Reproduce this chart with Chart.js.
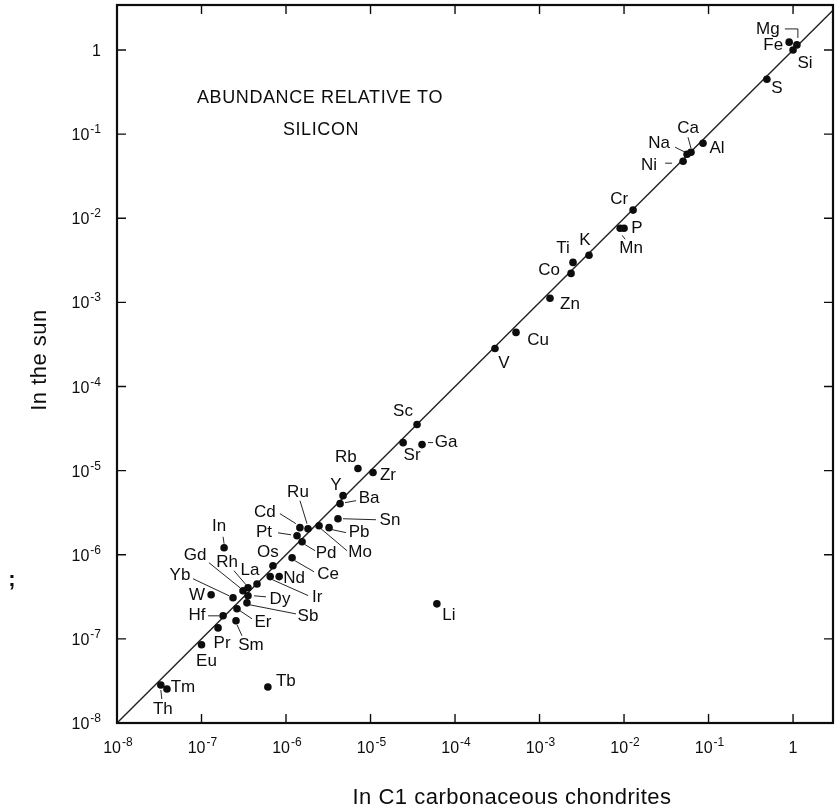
<!DOCTYPE html>
<html>
<head>
<meta charset="utf-8">
<script src="https://cdn.jsdelivr.net/npm/chart.js@4/dist/chart.umd.min.js"></script>
<style>
  html, body { margin: 0; background: #fff; }
  #grafico { display: block; }
</style>
</head>
<body>
<canvas id="grafico" width="838" height="810"></canvas>
<script>
// abundances relative to silicon
const elementos = ["Mg","Fe","Si","S","Al","Ca","Na","Ni","Cr","P","Mn","K","Ti","Co","Zn","Cu","V",
  "Sc","Sr","Ga","Zr","Rb","Y","Ba","Sn","Pb","Mo","Ru","Cd","Pt","Pd","Ce","Os","Nd","Ir","In",
  "Gd","Rh","La","Yb","W","Dy","Sb","Hf","Er","Sm","Pr","Eu","Tm","Th","Tb","Li"];
const condritas = [1.11,0.90,1,0.49,0.086,0.062,0.0557,0.050,0.0128,0.0100,0.0090,0.00385,0.00249,0.00236,0.00133,5.27e-4,2.97e-4,
  3.55e-5,2.43e-5,4.07e-5,1.07e-5,7.1e-6,4.73e-6,4.36e-6,4.12e-6,3.23e-6,2.46e-6,1.82e-6,1.46e-6,1.35e-6,1.55e-6,1.18e-6,7.0e-7,8.3e-7,6.5e-7,1.85e-7,
  3.1e-7,3.55e-7,4.54e-7,2.36e-7,1.3e-7,3.55e-7,3.45e-7,1.8e-7,2.63e-7,2.56e-7,1.57e-7,1.0e-7,3.9e-8,3.3e-8,6.1e-7,6.1e-5];
const sol = [1.15,1.24,1,0.45,0.078,0.061,0.0578,0.0477,0.0125,0.0076,0.0076,0.00363,0.00299,0.00221,0.00112,4.4e-4,2.83e-4,
  3.53e-5,2.15e-5,2.04e-5,9.5e-6,1.06e-5,5.04e-6,4.05e-6,2.68e-6,2.10e-6,2.21e-6,2.04e-6,2.10e-6,1.68e-6,1.43e-6,9.2e-7,7.4e-7,5.5e-7,5.5e-7,1.21e-6,
  3.73e-7,4.05e-7,4.5e-7,3.08e-7,3.34e-7,3.25e-7,2.68e-7,1.88e-7,2.28e-7,1.64e-7,1.35e-7,8.5e-8,2.54e-8,2.83e-8,2.68e-8,2.61e-7];

// equal-abundance line
const lineaX = [1e-8, 2.97];
const lineaY = [1e-8, 2.97];

// decade ticks (exponents)
const exponentes = [-8,-7,-6,-5,-4,-3,-2,-1,0];

// label placement: offset of label centre from the dot, optional leader line (offsets)
const etiquetas = {
  Mg:[-29,-16,[[-12,-16],[1,-16],[1,-7]]], Fe:[-16,3], Si:[12,13], S:[10,9], Al:[14,5],
  Ca:[-3,-24,[[-3,-15],[0,-4]]], Na:[-28,-11,[[-12,-7],[-2,-2]]], Ni:[-34,4,[[-18,2],[-11,2]]],
  Cr:[-14,-11], P:[13,0], Mn:[11,20,[[2,7],[5,11]]], K:[-4,-15], Ti:[-10,-14], Co:[-22,-3],
  Zn:[20,6], Cu:[22,8], V:[9,15], Sc:[-14,-13], Sr:[9,13], Ga:[24,-2,[[6,-2],[11,-2]]],
  Zr:[15,3], Rb:[-12,-11], Y:[-7,-10], Ba:[29,-5,[[5,-1],[16,-3]]], Sn:[52,2,[[5,0],[38,1]]],
  Pb:[30,5,[[3,2],[17,5]]], Mo:[41,27,[[2,3],[28,25]]], Ru:[-10,-36,[[-8,-28],[-1,-5]]],
  Cd:[-35,-15,[[-20,-14],[-4,-4]]], Pt:[-33,-3,[[-19,-3],[-6,-1]]], Pd:[24,12,[[3,3],[13,9]]],
  Ce:[36,17,[[3,3],[22,14]]], Os:[-5,-13], Nd:[15,2], Ir:[47,21,[[2,3],[38,19]]],
  In:[-5,-21,[[-1,-11],[0,-4]]], Gd:[-48,-35,[[-34,-28],[-3,-3]]], Rh:[-21,-25,[[-14,-17],[-2,-3]]],
  La:[-7,-14], Yb:[-53,-22,[[-40,-19],[-4,-2]]], W:[-14,0], Dy:[32,3,[[6,0],[18,1]]],
  Sb:[61,13,[[3,2],[49,11]]], Hf:[-26,-1,[[-15,0],[-4,0]]], Er:[26,14,[[3,2],[15,10]]],
  Sm:[15,25,[[1,4],[6,15]]], Pr:[4,15], Eu:[5,16], Tm:[16,-2], Th:[2,24,[[0,5],[1,14]]],
  Tb:[18,-6], Li:[12,11]
};

const tinta = "#0d0d0d";
const fuente = "'Liberation Sans', Arial, Helvetica, sans-serif";

function potencia(ctx, exp, x, base, alinear) {
  // draws 10^exp; x is right edge ('right') or tick position ('center')
  ctx.font = "16px " + fuente;
  if (exp === 0) {
    ctx.textAlign = alinear === "right" ? "right" : "center";
    ctx.fillText("1", x, base);
    return;
  }
  const w10 = ctx.measureText("10").width;
  ctx.font = "12px " + fuente;
  const txt = "-" + Math.abs(exp);
  const wExp = ctx.measureText(txt).width;
  const inicio = alinear === "right" ? x - w10 - wExp - 1 : x - w10 + 4;
  ctx.textAlign = "left";
  ctx.font = "16px " + fuente;
  ctx.fillText("10", inicio, base);
  ctx.font = "12px " + fuente;
  ctx.fillText(txt, inicio + w10 + 1, base - 7);
}

const decorado = {
  id: "decorado",
  afterDraw(chart) {
    const { ctx, chartArea: a, scales: { x, y } } = chart;
    ctx.save();
    ctx.fillStyle = tinta;
    ctx.strokeStyle = tinta;

    // frame
    ctx.lineWidth = 2.2;
    ctx.strokeRect(a.left, a.top, a.right - a.left, a.bottom - a.top);

    // inward ticks on all sides + tick labels
    ctx.lineWidth = 1.4;
    exponentes.forEach(e => {
      const v = Math.pow(10, e);
      const px = x.getPixelForValue(v);
      const py = y.getPixelForValue(v);
      ctx.beginPath();
      ctx.moveTo(px, a.bottom); ctx.lineTo(px, a.bottom - 9);
      ctx.moveTo(px, a.top); ctx.lineTo(px, a.top + 9);
      ctx.moveTo(a.left, py); ctx.lineTo(a.left + 9, py);
      ctx.moveTo(a.right, py); ctx.lineTo(a.right - 9, py);
      ctx.stroke();
      ctx.textBaseline = "alphabetic";
      potencia(ctx, e, 101, py + 6, "right");
      potencia(ctx, e, px, a.bottom + 30, "center");
    });

    // element labels and leader lines
    ctx.lineWidth = 0.9;
    ctx.font = "17px " + fuente;
    ctx.textAlign = "center";
    ctx.textBaseline = "middle";
    elementos.forEach((el, i) => {
      const px = x.getPixelForValue(condritas[i]);
      const py = y.getPixelForValue(sol[i]);
      const et = etiquetas[el];
      if (!et) return;
      if (et[2]) {
        ctx.beginPath();
        et[2].forEach((p, k) => k ? ctx.lineTo(px + p[0], py + p[1]) : ctx.moveTo(px + p[0], py + p[1]));
        ctx.stroke();
      }
      ctx.fillText(el, px + et[0], py + et[1]);
    });

    // inner caption
    ctx.font = "18px " + fuente;
    ctx.letterSpacing = "0.6px";
    ctx.fillText("ABUNDANCE RELATIVE TO", 320, 98);
    ctx.fillText("SILICON", 321, 130);

    // axis titles
    ctx.font = "22px " + fuente;
    ctx.letterSpacing = "0.5px";
    ctx.fillText("In C1 carbonaceous chondrites", 512, 798);
    ctx.save();
    ctx.translate(40, 360);
    ctx.rotate(-Math.PI / 2);
    ctx.fillText("In the sun", 0, 0);
    ctx.restore();
    ctx.letterSpacing = "0px";

    // stray mark at left margin
    ctx.font = "bold 22px " + fuente;
    ctx.fillText(";", 12, 580);
    ctx.restore();
  }
};

const ctx = document.getElementById("grafico").getContext("2d");
new Chart(ctx, {
  type: "scatter",
  data: {
    datasets: [
      {
        label: "Elementos",
        data: elementos.map((e, i) => ({ x: condritas[i], y: sol[i] })),
        pointRadius: 3.8,
        pointBackgroundColor: tinta,
        pointBorderWidth: 0
      },
      {
        type: "line",
        label: "Igualdad",
        data: lineaX.map((v, i) => ({ x: v, y: lineaY[i] })),
        borderColor: "#222",
        borderWidth: 1.4,
        pointRadius: 0,
        fill: false
      }
    ]
  },
  options: {
    responsive: false,
    animation: false,
    layout: { padding: { left: 117, right: 5, top: 5, bottom: 87 } },
    plugins: { legend: { display: false }, tooltip: { enabled: false } },
    scales: {
      x: { type: "logarithmic", min: 1e-8, max: 2.97, display: false },
      y: { type: "logarithmic", min: 1e-8, max: 3.43, display: false }
    }
  },
  plugins: [decorado]
});
</script>
</body>
</html>
